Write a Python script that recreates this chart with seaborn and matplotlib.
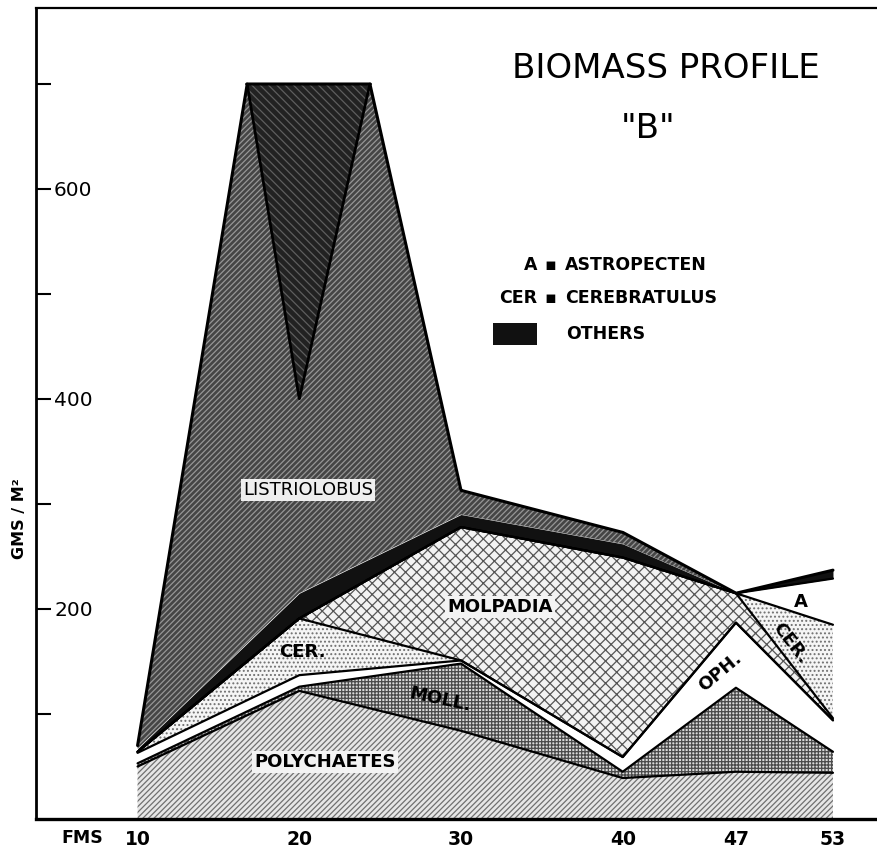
import numpy as np
import matplotlib
matplotlib.use("Agg")
import matplotlib.pyplot as plt
from matplotlib.patches import Rectangle
import seaborn as sns
import pandas as pd

# ---------------- data (GMS / M^2 per station, stacked from the bottom) -------------
stations = [10, 20, 30, 40, 47, 53]
station_labels = ["10", "20", "30", "40", "47", "53"]
polychaetes = [50, 122, 84, 39, 45, 44]
molluscs = [3, 4, 64, 6, 80, 20]
ophiuroids = [10, 11, 3, 14, 62, 30]
cerebratulus_below = [1, 54, 0, 0, 0, 0]
molpadia = [0, 0, 127, 190, 28, 2]
cerebratulus_above = [0, 0, 0, 0, 0, 89]
astropecten = [0, 0, 0, 0, 0, 44]
others = [3, 24, 12, 13, 0, 8]
listriolobus = [3, 785, 23, 11, 0, 0]
scale_top = 700
y_ticks = [100, 200, 300, 400, 500, 600, 700]
y_tick_labels = ["", "200", "", "400", "", "600", ""]

sns.set_theme(style="white")
plt.rcParams["font.family"] = ["DejaVu Sans"]
plt.rcParams["hatch.linewidth"] = 0.9
for k in ["text.color", "axes.labelcolor", "xtick.color", "ytick.color"]:
    plt.rcParams[k] = "black"

df = pd.DataFrame({
    "fms": stations,
    "poly": polychaetes, "moll": molluscs, "oph": ophiuroids,
    "cer_lo": cerebratulus_below, "molp": molpadia, "cer_hi": cerebratulus_above,
    "astro": astropecten, "others": others, "listrio": listriolobus,
})
order = ["poly", "moll", "oph", "cer_lo", "molp", "cer_hi", "astro", "others", "listrio"]
styles = {
    "poly":    dict(facecolor="#e6e6e6", edgecolor="#707070", hatch="//////"),
    "moll":    dict(facecolor="#dadada", edgecolor="#4a4a4a", hatch="+++++"),
    "oph":     dict(facecolor="white", edgecolor="white", hatch=None),
    "cer_lo":  dict(facecolor="#f5f5f5", edgecolor="#707070", hatch="...."),
    "molp":    dict(facecolor="#f2f2f2", edgecolor="#555555", hatch="xxx"),
    "cer_hi":  dict(facecolor="#f5f5f5", edgecolor="#707070", hatch="...."),
    "astro":   dict(facecolor="white", edgecolor="white", hatch=None),
    "others":  dict(facecolor="#111111", edgecolor="#111111", hatch=None),
}

cum = df[order].cumsum(axis=1)
x = df["fms"].to_numpy(dtype=float)

W, H = 877, 851
fig = plt.figure(figsize=(W / 100, H / 100), dpi=100)
ax = fig.add_axes([36 / W, 32 / H, 1 - 36 / W, (819 - 8) / H])
xmin, xmax = 10 - 101.5 / 16.16, 53 + 44 / 16.16
ax.set_xlim(xmin, xmax)
ax.set_ylim(0, (819 - 8) / 1.05)

# stacked layers below Listriolobus
prev = np.zeros(len(x))
for key in order[:-1]:
    top = cum[key].to_numpy(dtype=float)
    st = styles[key]
    ax.fill_between(x, prev, top, facecolor=st["facecolor"], edgecolor=st["edgecolor"],
                    hatch=st["hatch"], linewidth=0, zorder=1)
    prev = top

# Listriolobus: clipped at the top of the scale, overflow folded back down
xf = np.linspace(x[0], x[-1], 3001)
base = np.interp(xf, x, cum["others"].to_numpy(dtype=float))
true_top = np.interp(xf, x, cum["listrio"].to_numpy(dtype=float))
clipped = np.minimum(true_top, scale_top)
ax.fill_between(xf, base, clipped, facecolor="#454545", edgecolor="#969696",
                hatch="//////", linewidth=0, zorder=1)
over = true_top > scale_top
folded = np.where(over, 2 * scale_top - true_top, scale_top)
ax.fill_between(xf, folded, scale_top, where=over, facecolor="#222222", edgecolor="#5e5e5e",
                hatch="\\\\\\\\", linewidth=0, zorder=2)

# boundary lines
for key in ["poly", "moll", "oph", "cer_lo", "molp", "cer_hi", "astro"]:
    sns.lineplot(x=x, y=cum[key].to_numpy(dtype=float), color="black", linewidth=1.6,
                 estimator=None, sort=False, ax=ax, zorder=3)
sns.lineplot(x=xf, y=clipped, color="black", linewidth=2.2, estimator=None, sort=False,
             ax=ax, zorder=3)
if over.any():
    mask = (xf >= xf[over].min() - 0.05) & (xf <= xf[over].max() + 0.05)
    sns.lineplot(x=xf[mask], y=np.minimum(folded[mask], scale_top), color="black",
                 linewidth=2.0, estimator=None, sort=False, ax=ax, zorder=3)

# axes styling
ax.spines["right"].set_visible(False)
for side in ["left", "bottom", "top"]:
    ax.spines[side].set_color("black")
ax.spines["left"].set_linewidth(2.0)
ax.spines["bottom"].set_linewidth(2.4)
ax.spines["top"].set_linewidth(1.6)

ax.set_yticks(y_ticks)
ax.set_yticklabels(y_tick_labels, fontsize=14.5, fontweight="medium")
ax.tick_params(axis="y", direction="in", length=11, width=1.5, color="black",
               left=True, pad=-13)
for lab in ax.get_yticklabels():
    lab.set_horizontalalignment("left")

ax.set_xticks(stations)
ax.set_xticklabels(station_labels, fontsize=13.5, fontweight="bold")
ax.tick_params(axis="x", length=0, pad=8)
ax.set_xlabel("")
ax.set_ylabel("")
ax.grid(False)

fig.text(82 / W, 1 - 838 / H, "FMS", fontsize=12.5, fontweight="bold", ha="center", va="center")
fig.text(20 / W, 1 - 519 / H, "GMS / M²", fontsize=11.5, fontweight="bold", rotation=90,
         ha="center", va="center")

# title
fig.text(666 / W, 1 - 68 / H, "BIOMASS PROFILE", fontsize=24.5, ha="center", va="center")
fig.text(648 / W, 1 - 128 / H, '"B"', fontsize=24.5, ha="center", va="center")

# key
fig.text(537 / W, 1 - 265 / H, "A", fontsize=12.5, fontweight="bold", ha="right", va="center")
fig.text(537 / W, 1 - 298 / H, "CER", fontsize=12.5, fontweight="bold", ha="right", va="center")
fig.text(550 / W, 1 - 265 / H, "▪", fontsize=12.5, fontweight="bold", ha="center", va="center")
fig.text(550 / W, 1 - 298 / H, "▪", fontsize=12.5, fontweight="bold", ha="center", va="center")
fig.text(565 / W, 1 - 265 / H, "ASTROPECTEN", fontsize=12.5, fontweight="bold", ha="left", va="center")
fig.text(565 / W, 1 - 298 / H, "CEREBRATULUS", fontsize=12.5, fontweight="bold", ha="left", va="center")
fig.patches.append(Rectangle((493 / W, 1 - 345 / H), 44 / W, 22 / H, transform=fig.transFigure,
                             facecolor="#111111", edgecolor="none"))
fig.text(566 / W, 1 - 334 / H, "OTHERS", fontsize=12.5, fontweight="bold", ha="left", va="center")

# region labels
def px2d(px, py):
    return 10 + (px - 137.5) / 16.16, (819 - py) / 1.05

lbls = [
    ("LISTRIOLOBUS", 308, 490, 0, "normal", dict(facecolor="#eeeeee", edgecolor="none", pad=1.5)),
    ("MOLPADIA", 500, 607, 0, "bold", dict(facecolor="#f3f3f3", edgecolor="none", pad=1.5)),
    ("CER.", 302, 652, 0, "bold", None),
    ("MOLL.", 440, 700, -12, "bold", None),
    ("POLYCHAETES", 325, 762, 0, "bold", dict(facecolor="#f3f3f3", edgecolor="none", pad=1.5)),
    ("OPH.", 720, 672, 40, "bold", None),
    ("CER.", 790, 643, -52, "bold", None),
    ("A", 800, 602, 0, "bold", None),
]
for txt, px, py, rot, fw, bb in lbls:
    dx, dy = px2d(px, py)
    ax.text(dx, dy, txt, fontsize=13, fontweight=fw, rotation=rot, ha="center", va="center",
            bbox=bb, zorder=5, rotation_mode="anchor", color="black")

fig.savefig("out.png", dpi=100)
